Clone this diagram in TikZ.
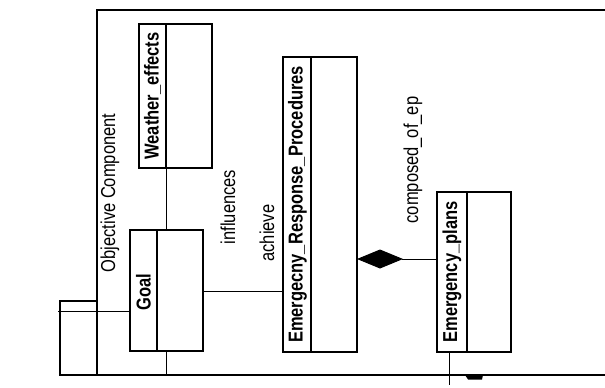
\documentclass[tikz,border=0pt]{standalone}
\usepackage{fontspec}
\setmainfont{Liberation Sans}
\usepackage{tikz}
\usetikzlibrary{arrows.meta}

\tikzset{
  classbox/.style={draw,line width=1.3pt,inner sep=0pt},
  clsname/.style={font=\fontsize{16.5}{18}\selectfont\bfseries,rotate=90,yscale=1.22,inner sep=1pt},
  lbl/.style={font=\fontsize{16.5}{18}\selectfont,rotate=90,yscale=1.22,inner sep=1pt},
  frameline/.style={line width=1.5pt}
}

\begin{document}
\begin{tikzpicture}[x=1pt,y=-1pt]
  \useasboundingbox (0,0) rectangle (605,388);
  % corners of the classes
  \coordinate (w1) at (139,24);
  \coordinate (w2) at (212,168);
  \coordinate (g1) at (130,230);
  \coordinate (g2) at (203,351);
  \coordinate (e1) at (283,57);
  \coordinate (e2) at (357,352);
  \coordinate (p1) at (437,192);
  \coordinate (p2) at (511,352);
  % ends of the connectors
  \coordinate (wg1) at (166,168);
  \coordinate (wg2) at (166,230);
  \coordinate (gb1) at (166,351);
  \coordinate (gb2) at (166,375);
  \coordinate (ge1) at (203,291);
  \coordinate (ge2) at (283,291);
  \coordinate (ep1) at (357,259);
  \coordinate (ep2) at (437,259);
  \coordinate (pb1) at (449,352);
  \coordinate (pb2) at (449,385);
  \coordinate (k1) at (58,311);
  \coordinate (k2) at (130,311);
  % the component frame
  \draw[frameline]
    (605,10)
    --
    (97,10)
    --
    (97,375);
  \draw[line width=1.3pt]
    (60,301)
    rectangle
    (97,375);
  \draw[frameline]
    (60,375)
    --
    (166,375);
  \draw[line width=2.2pt]
    (166,375)
    --
    (605,375);
  \fill
    (465,375)
    --
    (483,375)
    --
    (482,379.5)
    --
    (468,379.5)
    --
    cycle;
  % classes
  \draw[classbox]
    (w1)
    rectangle
    (w2);
  \draw[classbox]
    (166,24)
    --
    (166,168);
  \draw[classbox]
    (g1)
    rectangle
    (g2);
  \draw[classbox]
    (157,230)
    --
    (157,351);
  \draw[classbox]
    (e1)
    rectangle
    (e2);
  \draw[classbox]
    (311,57)
    --
    (311,352);
  \draw[classbox]
    (p1)
    rectangle
    (p2);
  \draw[classbox]
    (467,192)
    --
    (467,352);
  \node[clsname] (weather) at (152.5,96) {Weather\_effects};
  \node[clsname] (goal) at (143.5,292) {Goal};
  \node[clsname] (erp) at (297.5,204.5) {Emergecny\_Response\_Procedures};
  \node[clsname] (plans) at (452,272) {Emergency\_plans};
  % connectors
  \draw[line width=1pt]
    (wg1)
    --
    (wg2);
  \draw[line width=1pt]
    (gb1)
    --
    (gb2);
  \draw[line width=1pt]
    (ge1)
    --
    (ge2);
  \draw[line width=1pt,{Diamond[length=46pt,width=19pt]}-]
    (ep1)
    --
    (ep2);
  \draw[line width=1pt]
    (pb1)
    --
    (pb2);
  \draw[line width=1pt]
    (k1)
    --
    (k2);
  % labels
  \node[lbl] (objective) at (110,193) {Objective Component};
  \node[lbl] (influences) at (228,207) {influences};
  \node[lbl] (achieve) at (267,233) {achieve};
  \node[lbl] (composed) at (413,160) {composed\_of\_ep};
\end{tikzpicture}
\end{document}
